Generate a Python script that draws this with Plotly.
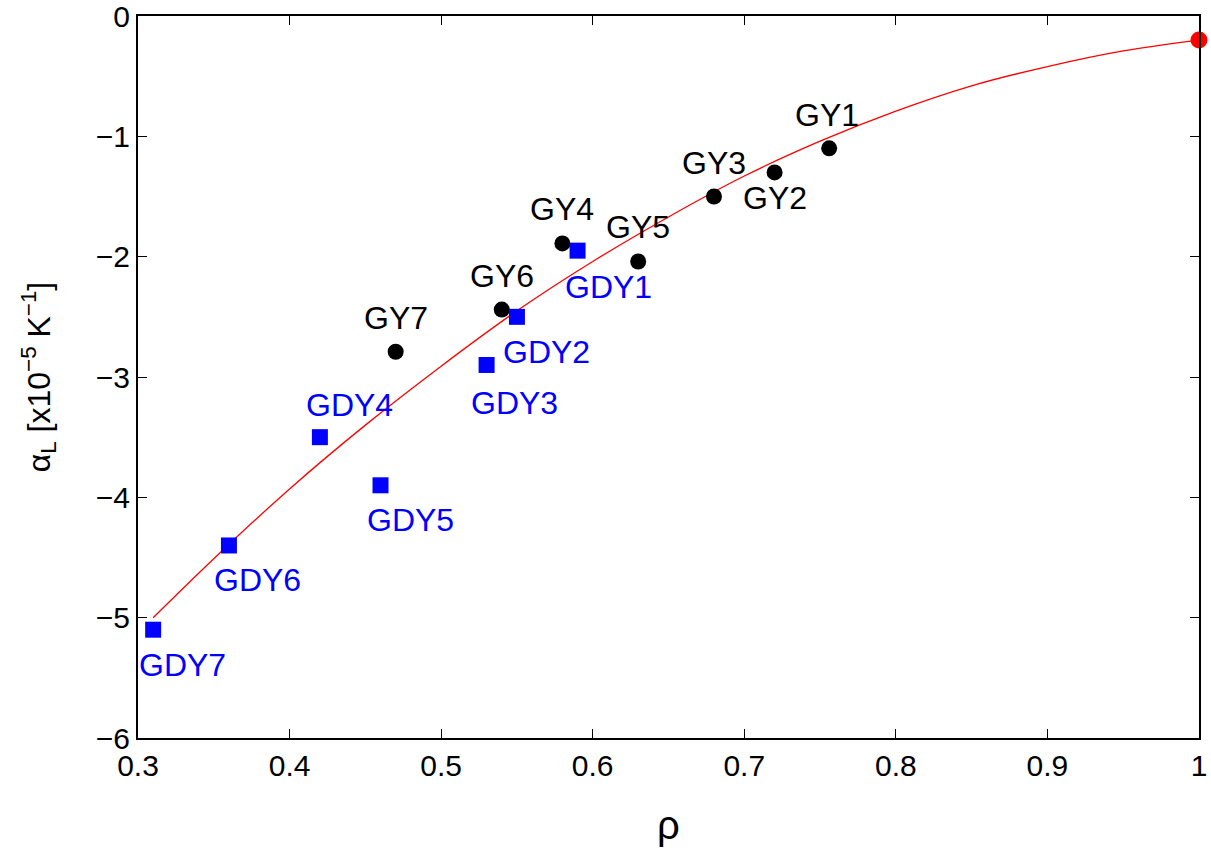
import plotly.graph_objects as go

# GY series (black circles)
gy_names = ["GY1", "GY2", "GY3", "GY4", "GY5", "GY6", "GY7"]
gy_rho = [0.756, 0.72, 0.68, 0.58, 0.63, 0.54, 0.47]
gy_alpha = [-1.10, -1.30, -1.50, -1.89, -2.04, -2.44, -2.79]

# GDY series (blue squares)
gdy_names = ["GDY1", "GDY2", "GDY3", "GDY4", "GDY5", "GDY6", "GDY7"]
gdy_rho = [0.59, 0.55, 0.53, 0.42, 0.46, 0.36, 0.31]
gdy_alpha = [-1.95, -2.50, -2.90, -3.50, -3.90, -4.40, -5.10]

# graphene reference point (red)
ref_rho = [1.0]
ref_alpha = [-0.2]

# fitted curve
fit_rho = [0.31, 0.35, 0.40, 0.45, 0.50, 0.55, 0.60, 0.65, 0.70, 0.75, 0.80, 0.85, 0.90, 0.95, 1.00]
fit_alpha = [-5.00, -4.51, -3.93, -3.40, -2.91, -2.45, -2.04, -1.67, -1.33, -1.04, -0.79, -0.58, -0.42, -0.29, -0.20]

x_ticks = [0.3, 0.4, 0.5, 0.6, 0.7, 0.8, 0.9, 1.0]
x_ticktext = ["0.3", "0.4", "0.5", "0.6", "0.7", "0.8", "0.9", "1"]
y_ticks = [0, -1, -2, -3, -4, -5, -6]
y_ticktext = ["0", "−1", "−2", "−3", "−4", "−5", "−6"]

# label pixel offsets (style)
gy_off = [(-2, 33), (0, -26), (0, 34), (0, 34), (0, 34), (0, 34), (0, 34)]
gdy_off = [(31, -36), (30, -35), (28, -38), (30, 32), (30, -35), (29, -35), (29, -35)]

FONT = "Liberation Sans, Arial, sans-serif"

fig = go.Figure()
fig.add_trace(go.Scatter(x=fit_rho, y=fit_alpha, mode="lines", line=dict(color="red", width=1.3, shape="spline"),
                         showlegend=False, hoverinfo="skip"))
fig.add_trace(go.Scatter(x=gy_rho, y=gy_alpha, mode="markers",
                         marker=dict(color="black", size=16, symbol="circle"), showlegend=False, cliponaxis=False))
fig.add_trace(go.Scatter(x=gdy_rho, y=gdy_alpha, mode="markers",
                         marker=dict(color="blue", size=16, symbol="square"), showlegend=False, cliponaxis=False))
fig.add_trace(go.Scatter(x=ref_rho, y=ref_alpha, mode="markers",
                         marker=dict(color="red", size=17, symbol="circle"), showlegend=False, cliponaxis=False))

for n, x, y, (dx, dy) in zip(gy_names, gy_rho, gy_alpha, gy_off):
    fig.add_annotation(x=x, y=y, text=n, showarrow=False, xshift=dx, yshift=dy,
                       font=dict(family=FONT, size=32, color="black"))
for n, x, y, (dx, dy) in zip(gdy_names, gdy_rho, gdy_alpha, gdy_off):
    fig.add_annotation(x=x, y=y, text=n, showarrow=False, xshift=dx, yshift=dy,
                       font=dict(family=FONT, size=32, color="blue"))

axis_common = dict(showline=True, linecolor="black", linewidth=2, mirror="ticks", ticks="inside",
                   ticklen=9, tickwidth=1, tickcolor="black", showgrid=False, zeroline=False,
                   automargin=False, ticklabeloverflow="allow",
                   tickfont=dict(family=FONT, size=30, color="black"))

fig.update_xaxes(range=[0.3, 1.0], tickvals=x_ticks, ticktext=x_ticktext,
                 title=dict(text="ρ", font=dict(family=FONT, size=40, color="black"), standoff=30),
                 **axis_common)
fig.update_yaxes(range=[-6, 0], tickvals=y_ticks, ticktext=y_ticktext,
                 title=dict(text="α<sub>L</sub> [x10<sup>−5</sup> K<sup>−1</sup>]",
                            font=dict(family=FONT, size=32, color="black"), standoff=36),
                 **axis_common)

fig.update_layout(width=1211, height=854, plot_bgcolor="white", paper_bgcolor="white",
                  margin=dict(l=138, r=12, t=16, b=116, autoexpand=False))

fig.write_html("out.html", config={"displayModeBar": False},
               post_script="document.body.style.margin='0';document.body.style.overflow='hidden';")
